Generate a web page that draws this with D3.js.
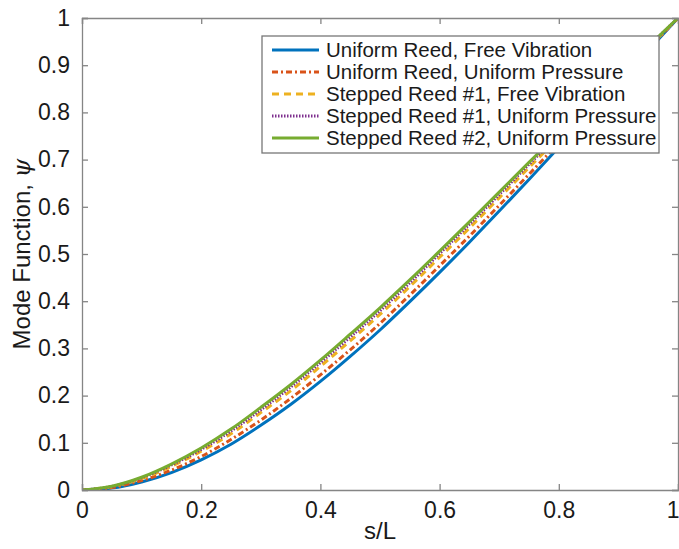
<!DOCTYPE html>
<html>
<head>
<meta charset="utf-8">
<script src="https://cdn.jsdelivr.net/npm/d3@7"></script>
<style>
  body { margin: 0; background: #fff; }
  text { font-family: "Liberation Sans", Arial, sans-serif; fill: #1a1a1a; }
</style>
</head>
<body>
<svg id="chart" width="679" height="549"></svg>
<script>
// values
const sL = [0, 0.05, 0.1, 0.15, 0.2, 0.25, 0.3, 0.35, 0.4, 0.45, 0.5, 0.55, 0.6, 0.65, 0.7, 0.75, 0.8, 0.85, 0.9, 0.95, 1]
const uniformFree = [0, 0.004, 0.017, 0.037, 0.064, 0.097, 0.137, 0.181, 0.230, 0.283, 0.339, 0.399, 0.461, 0.525, 0.591, 0.658, 0.726, 0.794, 0.862, 0.931, 1]
const uniformPressure = [0, 0.005, 0.020, 0.042, 0.071, 0.107, 0.148, 0.194, 0.244, 0.297, 0.353, 0.413, 0.475, 0.538, 0.603, 0.669, 0.735, 0.801, 0.867, 0.934, 1]
const stepped1Free = [0, 0.007, 0.024, 0.050, 0.082, 0.119, 0.164, 0.210, 0.262, 0.316, 0.372, 0.431, 0.493, 0.555, 0.619, 0.683, 0.747, 0.811, 0.874, 0.937, 1]
const stepped1Pressure = [0, 0.0075, 0.026, 0.053, 0.086, 0.125, 0.170, 0.218, 0.270, 0.324, 0.380, 0.439, 0.501, 0.563, 0.626, 0.690, 0.753, 0.816, 0.877, 0.939, 1]
const stepped2Pressure = [0, 0.008, 0.027, 0.055, 0.089, 0.129, 0.175, 0.223, 0.275, 0.330, 0.386, 0.445, 0.506, 0.568, 0.631, 0.694, 0.757, 0.819, 0.879, 0.940, 1]

const xTicks = [0, 0.2, 0.4, 0.6, 0.8, 1]
const yTicks = [0, 0.1, 0.2, 0.3, 0.4, 0.5, 0.6, 0.7, 0.8, 0.9, 1]

const series = [
  {name: "Uniform Reed, Free Vibration", values: uniformFree, color: "#0072BD", dash: null},
  {name: "Uniform Reed, Uniform Pressure", values: uniformPressure, color: "#D95319", dash: "6,3,2,3"},
  {name: "Stepped Reed #1, Free Vibration", values: stepped1Free, color: "#EDB120", dash: "7,5"},
  {name: "Stepped Reed #1, Uniform Pressure", values: stepped1Pressure, color: "#7E2F8E", dash: "1.5,1.5"},
  {name: "Stepped Reed #2, Uniform Pressure", values: stepped2Pressure, color: "#77AC30", dash: null}
]

const mLeft = 82, mRight = 678, mTop = 18, mBottom = 490
const svg = d3.select("#chart")

const xScale = d3.scaleLinear().domain([0, 1]).range([mLeft, mRight])
const yScale = d3.scaleLinear().domain([0, 1]).range([mBottom, mTop])

svg.append("defs").append("clipPath").attr("id", "plotclip")
  .append("rect")
  .attr("x", mLeft).attr("y", mTop)
  .attr("width", mRight - mLeft).attr("height", mBottom - mTop)

const line = d3.line()
  .x((d, i) => xScale(sL[i]))
  .y(d => yScale(d))
  .curve(d3.curveMonotoneX)

const plot = svg.append("g").attr("clip-path", "url(#plotclip)")
plot.selectAll(".curve")
  .data(series)
  .join("path")
  .attr("class", "curve")
  .attr("fill", "none")
  .attr("stroke", d => d.color)
  .attr("stroke-width", 3)
  .attr("stroke-dasharray", d => d.dash)
  .attr("d", d => line(d.values))

// axes, with a box and ticks pointing inward
const axisColor = "#858585"
const tickLen = 6
const x_axis = d3.axisBottom(xScale).tickValues(xTicks).tickSize(-tickLen).tickPadding(12)
  .tickFormat(d => d3.format("")(d))
const y_axis = d3.axisLeft(yScale).tickValues(yTicks).tickSize(-tickLen).tickPadding(12)
  .tickFormat(d => d3.format("")(d))

const gx = svg.append("g").attr("transform", `translate(0,${mBottom})`).call(x_axis)
const gy = svg.append("g").attr("transform", `translate(${mLeft},0)`).call(y_axis)
const gxTop = svg.append("g").attr("transform", `translate(0,${mTop})`)
  .call(d3.axisTop(xScale).tickValues(xTicks).tickSize(-tickLen).tickFormat(""))
const gyRight = svg.append("g").attr("transform", `translate(${mRight},0)`)
  .call(d3.axisRight(yScale).tickValues(yTicks).tickSize(-tickLen).tickFormat(""))

for (const g of [gx, gy, gxTop, gyRight]) {
  g.select(".domain").attr("stroke", axisColor).attr("stroke-width", 1.3)
  g.selectAll(".tick line").attr("stroke", axisColor).attr("stroke-width", 1.3)
  g.selectAll(".tick text").attr("font-size", 23).attr("fill", "#1a1a1a")
    .attr("font-family", "Liberation Sans, Arial, sans-serif")
}
// the last x label sits on the right edge, keep it inside the page
gx.selectAll(".tick text").filter(d => d === 1).attr("text-anchor", "end").attr("dx", 1)

// labels
svg.append("text")
  .attr("x", (mLeft + mRight) / 2).attr("y", 539)
  .attr("text-anchor", "middle")
  .attr("font-size", 24)
  .text("s/L")

const yl = svg.append("text")
  .attr("transform", `translate(30,${(mTop + mBottom) / 2}) rotate(-90)`)
  .attr("text-anchor", "middle")
  .attr("font-size", 24)
yl.append("tspan").text("Mode Function, ")
yl.append("tspan").attr("font-family", "DejaVu Serif, serif").attr("font-style", "italic").text("ψ")

// legend
const legendContainer = svg.append("g").attr("transform", "translate(262,36)")
legendContainer.append("rect")
  .attr("width", 397).attr("height", 117)
  .attr("fill", "#fff").attr("stroke", "#777").attr("stroke-width", 1.3)

const legends_items = legendContainer.selectAll(".legend")
  .data(series)
  .join("g")
  .attr("class", "legend")
  .attr("transform", (d, i) => `translate(0,${14 + i * 22})`)

legends_items.append("line")
  .attr("x1", 10).attr("x2", 57)
  .attr("stroke", d => d.color)
  .attr("stroke-width", 3)
  .attr("stroke-dasharray", d => d.dash)

legends_items.append("text")
  .attr("x", 64).attr("dy", 7)
  .attr("font-size", 20.5)
  .text(d => d.name)
</script>
</body>
</html>
